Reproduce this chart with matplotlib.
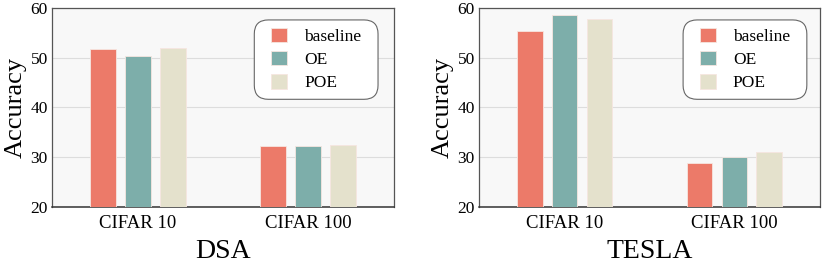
import numpy as np
import matplotlib.pyplot as plt
from matplotlib.patches import FancyBboxPatch
from matplotlib.transforms import IdentityTransform

plt.rcParams['font.family'] = ['Liberation Serif', 'DejaVu Serif']

# данные
datasets = ['CIFAR 10', 'CIFAR 100']
methods = ['baseline', 'OE', 'POE']
dsa = {'baseline': [51.8, 32.3], 'OE': [50.3, 32.3], 'POE': [51.9, 32.5]}
tesla = {'baseline': [55.3, 28.9], 'OE': [58.6, 30.0], 'POE': [57.8, 31.1]}
colors = ['#EC7A69', '#7DAEAA', '#E4E1CC']

fig = plt.figure(figsize=(8.3, 2.68), dpi=100)
ax1 = fig.add_axes([52/830, 61/268, 342/830, 199/268])
ax2 = fig.add_axes([479/830, 61/268, 341/830, 199/268])

x = np.arange(len(datasets))
offset = 0.206
width = 0.15

legends = []
for ax, data, title, lx in [(ax1, dsa, 'DSA', 0.927), (ax2, tesla, 'TESLA', 0.935)]:
    ax.set_facecolor('#F8F8F8')
    for i, m in enumerate(methods):
        ax.bar(x + (i - 1) * offset, data[m], width=width, color=colors[i],
               edgecolor='#F6E6E0', linewidth=0.6, label=m, zorder=3)
    ax.set_ylim(20, 60)
    ax.set_xlim(-0.506, 1.506)
    ax.set_yticks([20, 30, 40, 50, 60])
    ax.set_xticks(x)
    ax.set_xticklabels(datasets, fontsize=13.5)
    ax.tick_params(axis='y', labelsize=12.5, length=0, pad=3)
    ax.tick_params(axis='x', length=0, pad=6)
    ax.grid(axis='y', color='#DDDDDD', linewidth=0.8, zorder=0)
    for s in ax.spines.values():
        s.set_color('#555555')
        s.set_linewidth(0.9)
    ax.spines['bottom'].set_color('#333333')
    ax.spines['bottom'].set_linewidth(1.1)
    ax.set_ylabel('Accuracy', fontsize=19, labelpad=3)
    ax.set_xlabel(title, fontsize=20, labelpad=5)
    leg = ax.legend(loc='upper right', bbox_to_anchor=(lx, 0.94), fontsize=12.5,
                    frameon=False, handlelength=0.9, handleheight=0.9,
                    handletextpad=1.0, borderpad=0.45, labelspacing=0.35,
                    borderaxespad=0)
    legends.append((ax, leg))

# рамка легенды со скруглёнными углами (шире по горизонтали)
fig.canvas.draw()
for ax, leg in legends:
    bb = leg.get_window_extent()
    padx = 9
    frame = FancyBboxPatch((bb.x0 - padx, bb.y0), bb.width + 2 * padx, bb.height,
                           boxstyle='round,pad=0,rounding_size=14',
                           transform=IdentityTransform(), facecolor='white',
                           edgecolor='#666666', linewidth=0.8, clip_on=False,
                           zorder=4.9)
    ax.add_artist(frame)

fig.savefig('out.png', dpi=100)
